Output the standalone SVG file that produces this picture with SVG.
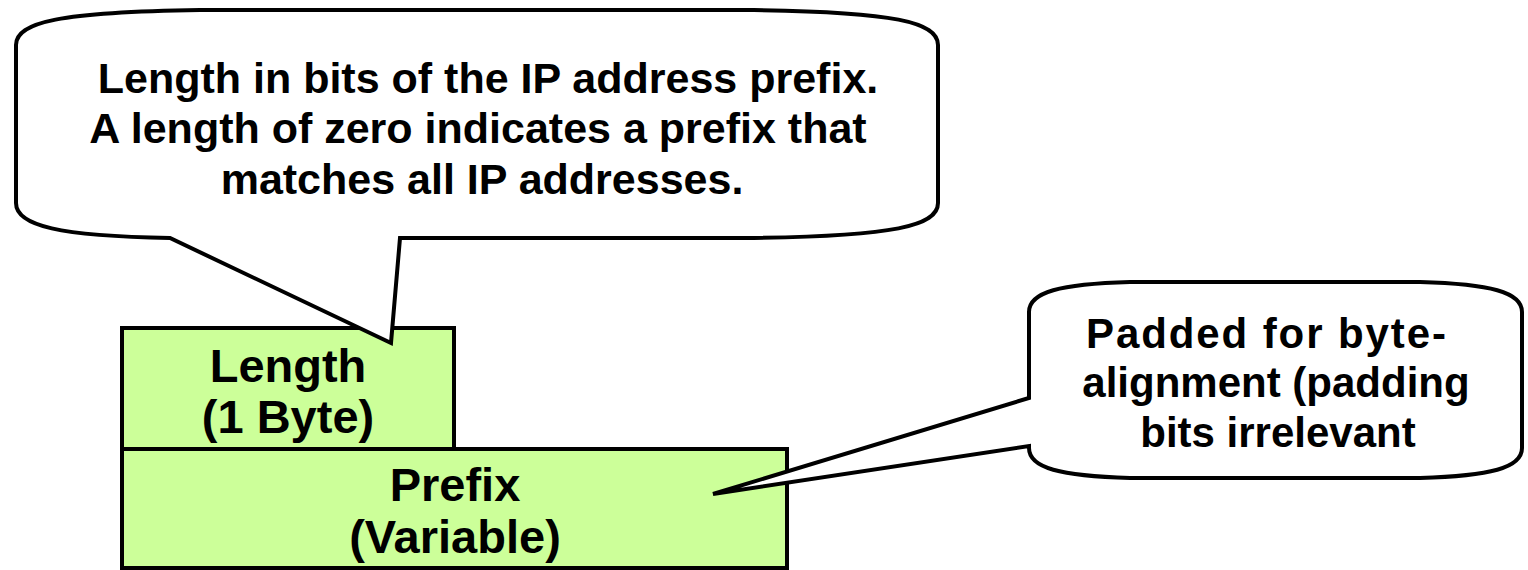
<svg xmlns="http://www.w3.org/2000/svg" width="1528" height="570" viewBox="0 0 1528 570">
<style>
.callout{fill:#ffffff;stroke:#000000;stroke-width:4;stroke-linejoin:miter}
.box{fill:#ccff99;stroke:#000000;stroke-width:4}
.t{font-family:"Liberation Sans",Arial,sans-serif;font-weight:bold;fill:#000000;text-anchor:middle}
.t1{font-size:43px}
.t2{font-size:42px}
.t3{font-size:47px}
</style>
<rect width="1528" height="570" fill="#ffffff"/>
<g id="length-box">
<rect class="box" x="122" y="328" width="332" height="121"/>
<text class="t t3" x="288" y="382">Length</text>
<text class="t t3" x="288" y="433">(1 Byte)</text>
</g>
<g id="prefix-box">
<rect class="box" x="122" y="449" width="665" height="119"/>
<text class="t t3" x="455" y="501">Prefix</text>
<text class="t t3" x="455" y="553">(Variable)</text>
</g>
<g id="connectors">
<g id="callout-length">
<path class="callout" d="M16,45 C16,22 60,12 200,10 L754,10 C894,12 938,22 938,45 L938,203 C938,226 894,236 754,238 L400,238 L391,343 L170,238 C60,236 16,226 16,203 Z"/>
<text class="t t1" x="488" y="93">Length in bits of the IP address prefix.</text>
<text class="t t1" x="478" y="143">A length of zero indicates a prefix that</text>
<text class="t t1" x="482" y="194">matches all IP addresses.</text>
</g>
<g id="callout-padding">
<path class="callout" d="M1029,312 C1029,292 1060,284 1130,282 L1420,282 C1490,284 1522,292 1522,312 L1522,448 C1522,468 1490,476 1420,478 L1130,478 C1060,476 1029,468 1029,448 L1029,446 L713,494 L1029,398 Z"/>
<text class="t t2" x="1266" y="348" textLength="360" lengthAdjust="spacing">Padded for byte-</text>
<text class="t t2" x="1276" y="397">alignment (padding</text>
<text class="t t2" x="1278" y="447">bits irrelevant</text>
</g>
</g>
</svg>
